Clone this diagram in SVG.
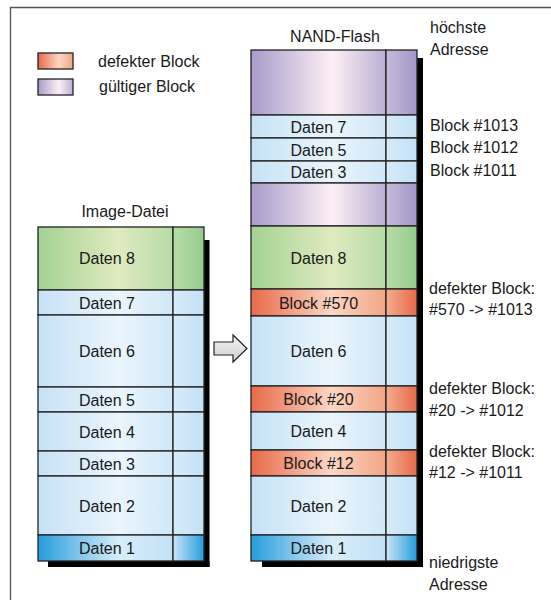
<svg xmlns="http://www.w3.org/2000/svg" width="551" height="600" viewBox="0 0 551 600">
<defs>
<linearGradient id="gM" x1="0" x2="1" y1="0" y2="0"><stop offset="0" stop-color="#a3d293"/><stop offset="0.6" stop-color="#e0eac0"/><stop offset="1" stop-color="#b6dba6"/></linearGradient>
<linearGradient id="gS" x1="0" x2="1" y1="0" y2="0"><stop offset="0" stop-color="#b8dca8"/><stop offset="1" stop-color="#96cb8c"/></linearGradient>
<linearGradient id="bM" x1="0" x2="1" y1="0" y2="0"><stop offset="0" stop-color="#c6e2f6"/><stop offset="0.6" stop-color="#eaf5fc"/><stop offset="1" stop-color="#d0e7f8"/></linearGradient>
<linearGradient id="bS" x1="0" x2="1" y1="0" y2="0"><stop offset="0" stop-color="#d6ebf9"/><stop offset="1" stop-color="#c4e1f6"/></linearGradient>
<linearGradient id="pM" x1="0" x2="1" y1="0" y2="0"><stop offset="0" stop-color="#a89bcb"/><stop offset="0.6" stop-color="#fdf0f4"/><stop offset="1" stop-color="#bbafd5"/></linearGradient>
<linearGradient id="pS" x1="0" x2="1" y1="0" y2="0"><stop offset="0" stop-color="#c6bbdc"/><stop offset="1" stop-color="#a296c7"/></linearGradient>
<linearGradient id="rM" x1="0" x2="1" y1="0" y2="0"><stop offset="0" stop-color="#e8694a"/><stop offset="0.6" stop-color="#fcd6c4"/><stop offset="1" stop-color="#f2a585"/></linearGradient>
<linearGradient id="rS" x1="0" x2="1" y1="0" y2="0"><stop offset="0" stop-color="#f4ac8d"/><stop offset="1" stop-color="#e8694a"/></linearGradient>
<linearGradient id="dM" x1="0" x2="1" y1="0" y2="0"><stop offset="0" stop-color="#259ddd"/><stop offset="0.6" stop-color="#d8edfa"/><stop offset="1" stop-color="#c2e1f6"/></linearGradient>
<linearGradient id="dS" x1="0" x2="1" y1="0" y2="0"><stop offset="0" stop-color="#cbe5f7"/><stop offset="1" stop-color="#259ddd"/></linearGradient>
<linearGradient id="aG" x1="0" x2="0" y1="0" y2="1"><stop offset="0" stop-color="#f4f4f4"/><stop offset="1" stop-color="#cfcfcf"/></linearGradient>
</defs>
<style>
text{font-family:"Liberation Sans",Arial,sans-serif;font-size:16px;fill:#1a1a1a}
.c{text-anchor:middle}
.cell{stroke:#222;stroke-width:1.3}
.sh{fill:#000}
</style>
<path d="M10.5,600 V7.5 H551" fill="none" stroke="#555" stroke-width="1.3"/>

<g id="legend">
<rect x="38" y="53" width="35" height="16" fill="url(#rM)" class="cell"/>
<rect x="38" y="79" width="35" height="16" fill="url(#pM)" class="cell"/>
<text x="98" y="67">defekter Block</text>
<text x="99" y="92">gültiger Block</text>
</g>

<g id="image-datei">
<text class="c" x="125" y="217">Image-Datei</text>
<rect class="sh" x="204" y="240" width="5.5" height="327"/>
<rect class="sh" x="48" y="561" width="161.5" height="6"/>
<g class="cell">
<rect x="38" y="227" width="135" height="63" fill="url(#gM)"/><rect x="173" y="227" width="31" height="63" fill="url(#gS)"/>
<rect x="38" y="290" width="135" height="25" fill="url(#bM)"/><rect x="173" y="290" width="31" height="25" fill="url(#bS)"/>
<rect x="38" y="315" width="135" height="72" fill="url(#bM)"/><rect x="173" y="315" width="31" height="72" fill="url(#bS)"/>
<rect x="38" y="387" width="135" height="25" fill="url(#bM)"/><rect x="173" y="387" width="31" height="25" fill="url(#bS)"/>
<rect x="38" y="412" width="135" height="39" fill="url(#bM)"/><rect x="173" y="412" width="31" height="39" fill="url(#bS)"/>
<rect x="38" y="451" width="135" height="25" fill="url(#bM)"/><rect x="173" y="451" width="31" height="25" fill="url(#bS)"/>
<rect x="38" y="476" width="135" height="59" fill="url(#bM)"/><rect x="173" y="476" width="31" height="59" fill="url(#bS)"/>
<rect x="38" y="535" width="135" height="26" fill="url(#dM)"/><rect x="173" y="535" width="31" height="26" fill="url(#dS)"/>
</g>
<text class="c" x="107" y="264">Daten 8</text>
<text class="c" x="107" y="308.5">Daten 7</text>
<text class="c" x="107" y="357">Daten 6</text>
<text class="c" x="107" y="405.5">Daten 5</text>
<text class="c" x="107" y="437.5">Daten 4</text>
<text class="c" x="107" y="469.5">Daten 3</text>
<text class="c" x="107" y="511.5">Daten 2</text>
<text class="c" x="107" y="554">Daten 1</text>
</g>

<g id="nand-flash">
<text class="c" x="335" y="42">NAND-Flash</text>
<rect class="sh" x="417" y="58" width="6" height="509"/>
<rect class="sh" x="262" y="561" width="161" height="6"/>
<g class="cell">
<rect x="251" y="50" width="135" height="65" fill="url(#pM)"/><rect x="386" y="50" width="31" height="65" fill="url(#pS)"/>
<rect x="251" y="115" width="135" height="23" fill="url(#bM)"/><rect x="386" y="115" width="31" height="23" fill="url(#bS)"/>
<rect x="251" y="138" width="135" height="23" fill="url(#bM)"/><rect x="386" y="138" width="31" height="23" fill="url(#bS)"/>
<rect x="251" y="161" width="135" height="22" fill="url(#bM)"/><rect x="386" y="161" width="31" height="22" fill="url(#bS)"/>
<rect x="251" y="183" width="135" height="43" fill="url(#pM)"/><rect x="386" y="183" width="31" height="43" fill="url(#pS)"/>
<rect x="251" y="226" width="135" height="63" fill="url(#gM)"/><rect x="386" y="226" width="31" height="63" fill="url(#gS)"/>
<rect x="251" y="289" width="135" height="27" fill="url(#rM)"/><rect x="386" y="289" width="31" height="27" fill="url(#rS)"/>
<rect x="251" y="316" width="135" height="70" fill="url(#bM)"/><rect x="386" y="316" width="31" height="70" fill="url(#bS)"/>
<rect x="251" y="386" width="135" height="26" fill="url(#rM)"/><rect x="386" y="386" width="31" height="26" fill="url(#rS)"/>
<rect x="251" y="412" width="135" height="38" fill="url(#bM)"/><rect x="386" y="412" width="31" height="38" fill="url(#bS)"/>
<rect x="251" y="450" width="135" height="26" fill="url(#rM)"/><rect x="386" y="450" width="31" height="26" fill="url(#rS)"/>
<rect x="251" y="476" width="135" height="59" fill="url(#bM)"/><rect x="386" y="476" width="31" height="59" fill="url(#bS)"/>
<rect x="251" y="535" width="135" height="26" fill="url(#dM)"/><rect x="386" y="535" width="31" height="26" fill="url(#dS)"/>
</g>
<text class="c" x="318.5" y="132.5">Daten 7</text>
<text class="c" x="318.5" y="155.5">Daten 5</text>
<text class="c" x="318.5" y="178">Daten 3</text>
<text class="c" x="318.5" y="263.5">Daten 8</text>
<text class="c" x="318.5" y="308.5">Block #570</text>
<text class="c" x="318.5" y="357">Daten 6</text>
<text class="c" x="318.5" y="405">Block #20</text>
<text class="c" x="318.5" y="437">Daten 4</text>
<text class="c" x="318.5" y="469">Block #12</text>
<text class="c" x="318.5" y="511.5">Daten 2</text>
<text class="c" x="318.5" y="554">Daten 1</text>
</g>

<g id="labels">
<text x="430" y="33">höchste</text>
<text x="430" y="55">Adresse</text>
<text x="430" y="131">Block #1013</text>
<text x="430" y="153">Block #1012</text>
<text x="430" y="176">Block #1011</text>
<text x="429" y="294">defekter Block:</text>
<text x="429" y="315">#570 -&gt; #1013</text>
<text x="429" y="394">defekter Block:</text>
<text x="429" y="416">#20 -&gt; #1012</text>
<text x="429" y="457">defekter Block:</text>
<text x="429" y="478">#12 -&gt; #1011</text>
<text x="429" y="568">niedrigste</text>
<text x="429" y="590">Adresse</text>
</g>

<g id="connectors">
<path d="M214,342 H233 V335 L247,348.5 L233,362 V355 H214 Z" fill="url(#aG)" stroke="#222" stroke-width="1.2" stroke-linejoin="miter"/>
</g>
</svg>
